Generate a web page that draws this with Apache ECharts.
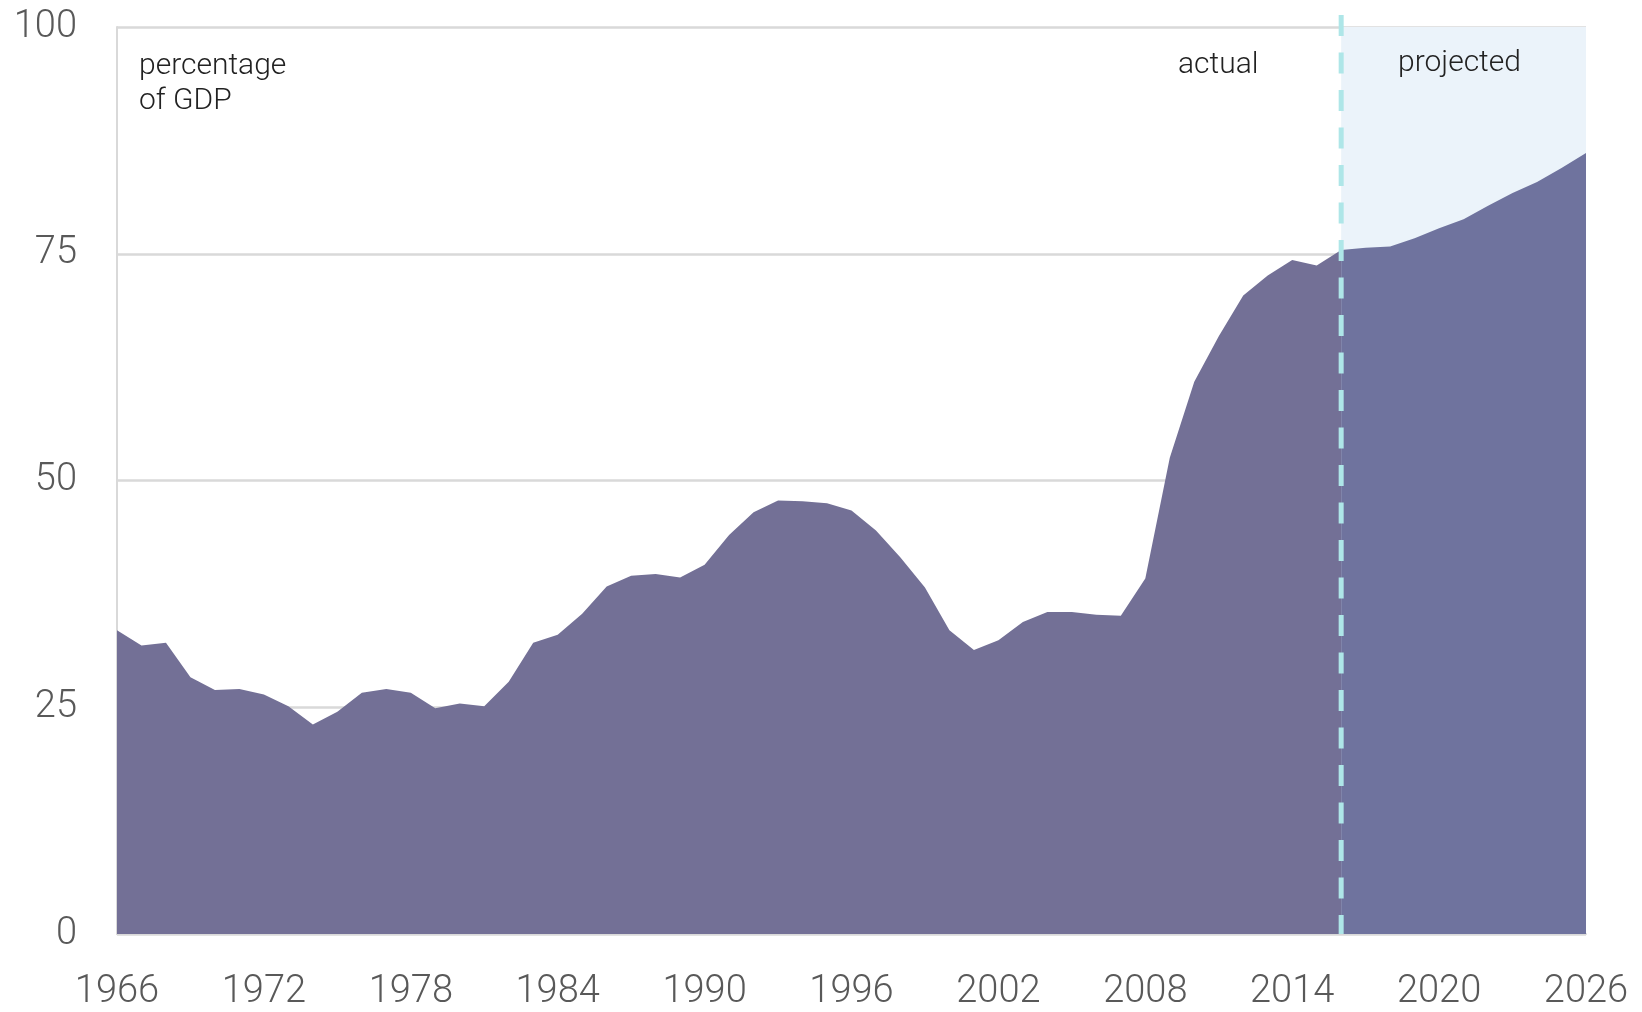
<!DOCTYPE html>
<html>
<head>
<meta charset="utf-8">
<script src="https://cdn.jsdelivr.net/npm/echarts@6/dist/echarts.min.js"></script>
<style>
html,body{margin:0;padding:0;background:#fff;}
#chart{width:1642px;height:1012px;}
</style>
</head>
<body>
<div id="chart"></div>
<script>
// Years 1966..2026
const years = [];
for (let y = 1966; y <= 2026; y++) years.push(String(y));

// Actual debt held by public, % of GDP (1966-2016)
const actualValues = [
  33.5, 31.8, 32.1, 28.3, 26.9, 27.0, 26.4, 25.1, 23.1, 24.5,
  26.6, 27.0, 26.6, 24.9, 25.4, 25.1, 27.8, 32.1, 33.0, 35.3,
  38.3, 39.5, 39.7, 39.3, 40.7, 44.0, 46.5, 47.8, 47.7, 47.5,
  46.7, 44.5, 41.5, 38.2, 33.5, 31.3, 32.4, 34.4, 35.5, 35.5,
  35.2, 35.1, 39.2, 52.5, 60.9, 65.9, 70.4, 72.6, 74.3, 73.7,
  75.4
];
// Projected (2016-2026)
const projectedValues = [
  75.4, 75.65, 75.8, 76.7, 77.8, 78.8, 80.3, 81.7, 82.9, 84.45, 86.1
];
const yTicks = [0, 25, 50, 75, 100];
const splitYear = '2016';
const endYear = '2026';

const actualData = years.map((y, i) => i < actualValues.length ? actualValues[i] : '-');
const projStart = years.indexOf(splitYear);
const projectedData = years.map((y, i) => i >= projStart ? projectedValues[i - projStart] : '-');

const textStyleBase = { fill: '#222222', font: '300 30px Roboto' };

const chart = echarts.init(document.getElementById('chart'));
chart.setOption({
  animation: false,
  backgroundColor: '#ffffff',
  grid: { left: 117, right: 56, top: 27, bottom: 78, containLabel: false, outerBoundsMode: 'none' },
  xAxis: {
    type: 'category',
    data: years,
    boundaryGap: false,
    axisLine: { show: true, lineStyle: { color: '#D9D9D9', width: 2 } },
    axisTick: { show: false },
    axisLabel: {
      interval: 5,
      color: '#595959',
      fontFamily: 'Roboto',
      fontWeight: 300,
      fontSize: 38,
      margin: 39
    },
    splitLine: { show: false }
  },
  yAxis: {
    type: 'value',
    min: yTicks[0],
    max: yTicks[yTicks.length - 1],
    interval: 25,
    axisLine: { show: true, lineStyle: { color: '#D9D9D9', width: 2 } },
    axisTick: { show: false },
    axisLabel: {
      color: '#595959',
      fontFamily: 'Roboto',
      fontWeight: 300,
      fontSize: 38,
      margin: 40
    },
    splitLine: { show: true, lineStyle: { color: '#D9D9D9', width: 2.5 } }
  },
  series: [
    {
      type: 'line',
      name: 'shade',
      z: 1,
      data: [],
      markArea: {
        silent: true,
        itemStyle: { color: '#EBF3FA' },
        data: [[{ coord: [splitYear, yTicks[0]] }, { coord: [endYear, yTicks[yTicks.length - 1]] }]]
      }
    },
    {
      type: 'line',
      name: 'actual',
      z: 3,
      data: actualData,
      showSymbol: false,
      symbol: 'none',
      lineStyle: { width: 0 },
      areaStyle: { color: '#737096', opacity: 1 }
    },
    {
      type: 'line',
      name: 'projected',
      z: 3,
      data: projectedData,
      showSymbol: false,
      symbol: 'none',
      lineStyle: { width: 0 },
      areaStyle: { color: '#6F739E', opacity: 1 }
    }
  ]
});

// Divider line at the split year, positioned through the chart's own scales
const topPt = chart.convertToPixel({ gridIndex: 0 }, [splitYear, yTicks[yTicks.length - 1]]);
const botPt = chart.convertToPixel({ gridIndex: 0 }, [splitYear, yTicks[0]]);
chart.setOption({
  graphic: [
    { type: 'text', z: 100, left: 139, top: 49, style: Object.assign({ text: 'percentage\nof GDP', lineHeight: 35 }, textStyleBase) },
    { type: 'text', z: 100, left: 1178, top: 50, style: Object.assign({ text: 'actual' }, textStyleBase) },
    { type: 'text', z: 100, left: 1398, top: 48, style: Object.assign({ text: 'projected' }, textStyleBase) },
    {
      type: 'line', z: 50, silent: true,
      shape: { x1: topPt[0], y1: topPt[1] - 12, x2: botPt[0], y2: botPt[1] },
      style: { stroke: '#AEE6E8', lineWidth: 5, lineDash: [21, 16.5] }
    }
  ]
});
</script>
</body>
</html>
